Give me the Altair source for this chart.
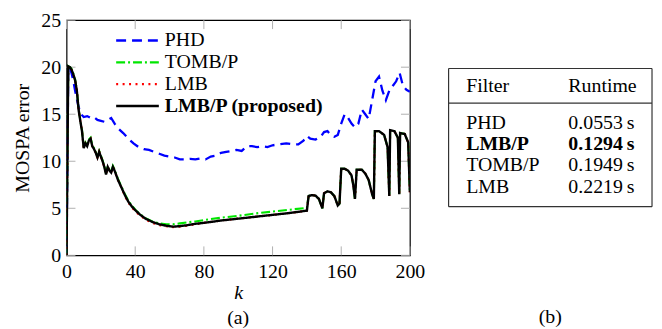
import altair as alt
import pandas as pd

FONT = "Liberation Serif"

SERIES = ["PHD", "TOMB/P", "LMB", "LMB/P (proposed)"]
COLORS = ["#0000ff", "#00e600", "#ff0000", "#000000"]
DASHES = [[10, 6], [9, 3, 2, 3], [2, 4.5], [1, 0]]
WIDTHS = [2.3, 2.1, 2.1, 2.4]

# PHD (blue dashed)
phd_k = [0, 1, 2, 3, 4, 5, 6, 7, 8, 9, 10, 12, 14, 16, 18, 20, 22, 24, 26, 28, 30, 33, 36, 39,
         42, 45, 48, 51, 54, 57, 60, 63, 66, 69, 72, 75, 78, 81, 84, 87, 90, 93, 96, 99, 102,
         105, 108, 111, 114, 117, 120, 124, 128, 132, 135, 138, 140, 142, 145, 148, 150, 152,
         154, 156, 158, 160, 162, 164, 166, 168, 170, 172, 174, 176, 178, 180, 182, 184, 186,
         188, 190, 192, 194, 196, 198, 200]
phd_v = [0, 20.0, 19.9, 19.3, 18.5, 17.5, 16.6, 15.8, 15.2, 14.9, 14.7, 14.8, 14.6, 14.7, 14.4,
         14.3, 14.2, 14.4, 14.6, 14.0, 13.5, 13.0, 12.4, 11.9, 11.5, 11.3, 11.2, 11.0, 10.8,
         10.6, 10.5, 10.4, 10.2, 10.2, 10.25, 10.2, 10.3, 10.2, 10.5, 10.6, 10.9, 11.0, 11.1,
         11.2, 11.1, 11.6, 11.6, 11.5, 11.6, 11.5, 11.7, 11.8, 11.9, 11.8, 11.8, 12.2, 12.7,
         12.4, 12.3, 12.6, 13.1, 13.2, 12.8, 12.6, 12.8, 14.0, 15.0, 14.6, 14.0, 13.6, 14.0,
         15.5, 15.0, 14.5, 16.5, 18.5, 19.0, 17.5, 16.5, 17.5, 18.0, 18.5, 19.4, 18.0, 17.6, 17.4]

# LMB/P (black solid)
lmbp_k = [0, 1, 2, 3, 4, 5, 6, 7, 8, 9, 10, 11, 12, 13, 14, 15, 16, 17, 18, 19, 20, 21, 22, 23,
          24, 25, 26, 27, 28, 29, 30, 32, 34, 36, 38, 40, 43, 46, 50, 54, 58, 62, 66, 70, 75,
          80, 90, 100, 110, 120, 130, 140, 141, 143, 145, 147, 148, 149, 150, 152, 154, 156,
          157, 158, 159, 160, 162, 164, 166, 167, 168, 169, 172, 174, 176, 178, 179, 179.6, 182,
          185, 187, 188, 188.5, 191, 193, 193.8, 194.3, 197, 199, 200]
lmbp_v = [0, 20.1, 20.0, 19.7, 19.2, 18.6, 17.5, 15.5, 14.3, 13.2, 11.4, 11.9, 11.6, 12.2, 12.4,
          11.6, 11.3, 10.9, 10.4, 11.0, 10.5, 10.0, 9.4, 8.6, 9.4, 9.0, 8.8, 9.4, 9.0, 8.5, 8.0,
          7.2, 6.4, 5.7, 5.2, 4.8, 4.3, 3.9, 3.55, 3.3, 3.15, 3.05, 3.1, 3.2, 3.35, 3.45, 3.7,
          3.9, 4.1, 4.3, 4.5, 4.75, 6.3, 6.4, 6.35, 6.0, 5.5, 5.0, 6.6, 6.8, 6.7, 6.3, 5.8, 5.3,
          5.5, 9.2, 9.2, 9.0, 8.5, 7.5, 6.0, 9.1, 9.1, 8.7, 8.0, 6.5, 6.0, 13.2, 13.2,
          12.8, 11.5, 6.3, 13.3, 13.2, 12.5, 6.5, 13.0, 12.9, 12.0, 6.7]

# LMB (red dotted) - nearly identical to LMB/P
lmb_k = lmbp_k
lmb_v = [0, 20.1, 20.0, 19.7, 19.2, 18.6, 17.5, 15.5, 14.3, 13.2, 11.4, 11.9, 11.6, 12.2, 12.4,
         11.6, 11.3, 10.9, 10.4, 11.0, 10.5, 10.0, 9.4, 8.6, 9.4, 9.0, 8.8, 9.4, 9.0, 8.5, 8.0,
         7.2, 6.3, 5.6, 5.1, 4.7, 4.2, 3.8, 3.45, 3.2, 3.1, 3.0, 3.05, 3.15, 3.3, 3.45, 3.7,
         3.9, 4.1, 4.3, 4.5, 4.75, 6.3, 6.4, 6.35, 6.0, 5.5, 5.0, 6.6, 6.8, 6.7, 6.3, 5.8, 5.3,
         5.5, 9.2, 9.2, 9.0, 8.5, 7.5, 6.0, 9.1, 9.1, 8.7, 8.0, 6.5, 6.0, 13.2, 13.2,
         12.8, 11.5, 6.3, 13.3, 13.2, 12.5, 6.5, 13.0, 12.9, 12.0, 6.7]

# TOMB/P (green dash-dot) - above LMB/P between ~55 and 140
tomb_k = lmbp_k
tomb_v = [0, 20.1, 20.0, 19.8, 19.3, 18.7, 17.6, 15.6, 14.4, 13.3, 11.5, 12.0, 11.7, 12.3, 12.5,
          11.7, 11.4, 11.0, 10.5, 11.1, 10.6, 10.1, 9.5, 8.7, 9.5, 9.1, 8.9, 9.5, 9.1, 8.6, 8.1,
          7.3, 6.5, 5.8, 5.3, 4.85, 4.35, 3.95, 3.6, 3.4, 3.3, 3.3, 3.4, 3.5, 3.6, 3.75, 4.0,
          4.2, 4.45, 4.65, 4.85, 5.05, 6.3, 6.4, 6.35, 6.0, 5.5, 5.0, 6.6, 6.8, 6.7, 6.3, 5.8,
          5.3, 5.5, 9.2, 9.2, 9.0, 8.5, 7.5, 6.0, 9.1, 9.1, 8.7, 8.0, 6.5, 6.0, 13.2, 13.2,
          12.8, 11.5, 6.3, 13.3, 13.2, 12.5, 6.5, 13.0, 12.9, 12.0, 6.7]

SERIES_K = [phd_k, tomb_k, lmb_k, lmbp_k]
SERIES_V = [phd_v, tomb_v, lmb_v, lmbp_v]

X_TICKS = [0, 40, 80, 120, 160, 200]
Y_TICKS = [0, 5, 10, 15, 20, 25]

# Runtime table
HEADERS = ["Filter", "Runtime"]
FILTERS = ["PHD", "LMB/P", "TOMB/P", "LMB"]
RUNTIMES = [0.0553, 0.1294, 0.1949, 0.2219]
PROPOSED = "LMB/P"

W, H = 346, 237

x_scale = alt.Scale(domain=[0, 200], nice=False, zero=False)
y_scale = alt.Scale(domain=[0, 25], nice=False, zero=False)
axis_kw = dict(ticks=False, tickSize=0, domain=False, grid=False, labelPadding=6,
               labelFlush=False, labelOverlap=False, labelFont=FONT, titleFont=FONT,
               labelFontSize=20, titleFontSize=20, labelColor="black", titleColor="black",
               titleFontWeight="normal")
x_axis = alt.Axis(values=X_TICKS, title="k", titleFontStyle="italic", titlePadding=2, **axis_kw)
y_axis = alt.Axis(values=Y_TICKS, title="MOSPA error", titlePadding=8, **axis_kw)

X = alt.X("k:Q", scale=x_scale, axis=x_axis)
Y = alt.Y("v:Q", scale=y_scale, axis=y_axis)

layers = []
# inner tick marks
xt = pd.DataFrame({"k": X_TICKS})
yt = pd.DataFrame({"v": Y_TICKS})
TICKC = "#b0b0b0"
TL = 9
layers.append(alt.Chart(xt).mark_rule(color=TICKC, strokeWidth=1).encode(
    x=X, y=alt.value(H), y2=alt.value(H - TL)))
layers.append(alt.Chart(xt).mark_rule(color=TICKC, strokeWidth=1).encode(
    x=X, y=alt.value(0), y2=alt.value(TL)))
layers.append(alt.Chart(yt).mark_rule(color=TICKC, strokeWidth=1).encode(
    y=Y, x=alt.value(0), x2=alt.value(TL)))
layers.append(alt.Chart(yt).mark_rule(color=TICKC, strokeWidth=1).encode(
    y=Y, x=alt.value(W), x2=alt.value(W - TL)))

for name, ks, vs, col, dash, sw in zip(SERIES, SERIES_K, SERIES_V, COLORS, DASHES, WIDTHS):
    df = pd.DataFrame({"k": ks, "v": vs})
    layers.append(alt.Chart(df).mark_line(color=col, strokeDash=dash, strokeWidth=sw,
                                          clip=True).encode(x=X, y=Y))

# legend (manual)
for i, (name, col, dash, sw) in enumerate(zip(SERIES, COLORS, DASHES, WIDTHS)):
    ly = 20.5 + 22 * i
    ldf = pd.DataFrame({"name": [name]})
    layers.append(alt.Chart(ldf).mark_rule(color=col, strokeDash=dash, strokeWidth=sw + 0.3).encode(
        x=alt.value(50), x2=alt.value(93), y=alt.value(ly)))
    layers.append(alt.Chart(ldf).mark_text(
        align="left", baseline="middle", font=FONT, fontSize=20, color="black",
        fontWeight="bold" if name.startswith(PROPOSED) else "normal").encode(
        x=alt.value(99), y=alt.value(ly), text="name:N"))

plot = alt.layer(*layers).properties(
    width=W, height=H,
    title=alt.TitleParams("(a)", orient="bottom", offset=5, frame="group", anchor="middle",
                          font=FONT, fontSize=20, fontWeight="normal", color="black"))

# table (its view shares the plot's top edge)
TW, TH = 205, 237
rows = list(range(1, len(FILTERS) + 1))
runtime_txt = [f"{t:.4f}\u2009s" for t in RUNTIMES]
bold = [f == PROPOSED for f in FILTERS]
tbl = pd.DataFrame({
    "r": rows + rows,
    "c": [0] * len(rows) + [1] * len(rows),
    "txt": FILTERS + runtime_txt,
    "bold": bold + bold,
})
hdr = pd.DataFrame({"r": [0, 0], "c": [0, 1], "txt": HEADERS, "bold": [False, False]})

tx = alt.Scale(domain=[-0.1718, 1.8184], nice=False, zero=False)
ty = alt.Scale(domain=[-3.846, 7.229], reverse=True, nice=False, zero=False)
TX = alt.X("c:Q", scale=tx, axis=None)
TY = alt.Y("r:Q", scale=ty, axis=None)

tlayers = []
txt_kw = dict(align="left", baseline="middle", font=FONT, fontSize=20, color="black")
tlayers.append(alt.Chart(tbl).transform_filter("!datum.bold").mark_text(**txt_kw).encode(
    x=TX, y=TY, text="txt:N"))
tlayers.append(alt.Chart(tbl).transform_filter("datum.bold").mark_text(
    fontWeight="bold", **txt_kw).encode(x=TX, y=TY, text="txt:N"))
tlayers.append(alt.Chart(hdr).mark_text(dy=-16.3, **txt_kw).encode(x=TX, y=TY, text="txt:N"))

FR = "#333333"
frame = pd.DataFrame({"c": [0]})
top_y, mid_y, bot_y = 48.7, 83.7, 188
for yv in (top_y, mid_y, bot_y):
    tlayers.append(alt.Chart(frame).mark_rule(color=FR, strokeWidth=1.2).encode(
        x=alt.value(0), x2=alt.value(TW), y=alt.value(yv)))
for xv in (0, TW):
    tlayers.append(alt.Chart(frame).mark_rule(color=FR, strokeWidth=1.2).encode(
        x=alt.value(xv), y=alt.value(top_y), y2=alt.value(bot_y)))

table = alt.layer(*tlayers).properties(
    width=TW, height=TH, view=alt.ViewBackground(stroke="transparent"),
    title=alt.TitleParams("(b)", orient="bottom", offset=52, frame="group", anchor="middle",
                          font=FONT, fontSize=20, fontWeight="normal", color="black"))

chart = alt.hconcat(plot, table, spacing=21).properties(
    padding={"left": 4, "top": 0, "right": 0, "bottom": 0}, background="white"
).configure(font=FONT).configure_view(stroke="black", strokeWidth=1.2).configure_text(font=FONT)

chart.save("out.html", embed_options={"renderer": "svg", "actions": False})
